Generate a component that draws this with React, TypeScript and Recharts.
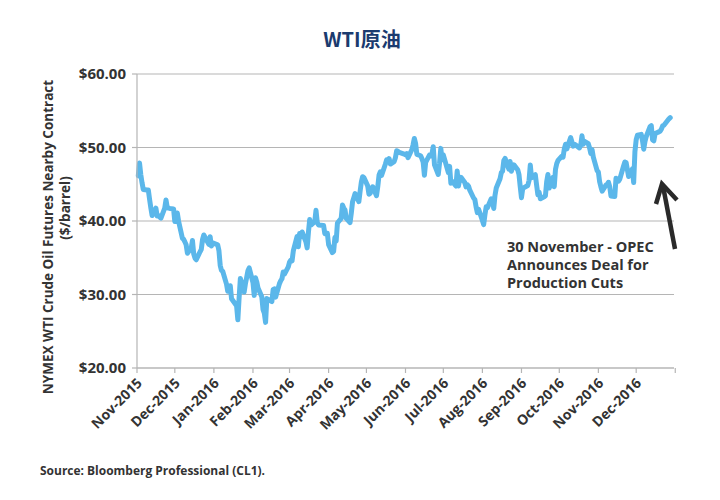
import React from 'react';
import { LineChart, Line, XAxis, YAxis, CartesianGrid } from 'recharts';

// WTI nearby contract (CL1) closes, Nov-2015 .. Dec-2016
const tradeDates = [
  '2015-11-02', '2015-11-03', '2015-11-04', '2015-11-05', '2015-11-06', '2015-11-09', '2015-11-10', '2015-11-11',
  '2015-11-12', '2015-11-13', '2015-11-16', '2015-11-17', '2015-11-18', '2015-11-19', '2015-11-20', '2015-11-23',
  '2015-11-24', '2015-11-25', '2015-11-27', '2015-11-30',
  '2015-12-01', '2015-12-02', '2015-12-03', '2015-12-04', '2015-12-07', '2015-12-08', '2015-12-09', '2015-12-10',
  '2015-12-11', '2015-12-14', '2015-12-15', '2015-12-16', '2015-12-17', '2015-12-18', '2015-12-21', '2015-12-22',
  '2015-12-23', '2015-12-24', '2015-12-28', '2015-12-29', '2015-12-30', '2015-12-31',
  '2016-01-04', '2016-01-05', '2016-01-06', '2016-01-07', '2016-01-08', '2016-01-11', '2016-01-12', '2016-01-13',
  '2016-01-14', '2016-01-15', '2016-01-19', '2016-01-20', '2016-01-21', '2016-01-22', '2016-01-25', '2016-01-26',
  '2016-01-27', '2016-01-28', '2016-01-29',
  '2016-02-01', '2016-02-02', '2016-02-03', '2016-02-04', '2016-02-05', '2016-02-08', '2016-02-09', '2016-02-10',
  '2016-02-11', '2016-02-12', '2016-02-16', '2016-02-17', '2016-02-18', '2016-02-19', '2016-02-22', '2016-02-23',
  '2016-02-24', '2016-02-25', '2016-02-26', '2016-02-29',
  '2016-03-01', '2016-03-02', '2016-03-03', '2016-03-04', '2016-03-07', '2016-03-08', '2016-03-09', '2016-03-10',
  '2016-03-11', '2016-03-14', '2016-03-15', '2016-03-16', '2016-03-17', '2016-03-18', '2016-03-21', '2016-03-22',
  '2016-03-23', '2016-03-24', '2016-03-28', '2016-03-29', '2016-03-30', '2016-03-31',
  '2016-04-01', '2016-04-04', '2016-04-05', '2016-04-06', '2016-04-07', '2016-04-08', '2016-04-11', '2016-04-12',
  '2016-04-13', '2016-04-14', '2016-04-15', '2016-04-18', '2016-04-19', '2016-04-20', '2016-04-21', '2016-04-22',
  '2016-04-25', '2016-04-26', '2016-04-27', '2016-04-28', '2016-04-29',
  '2016-05-02', '2016-05-03', '2016-05-04', '2016-05-05', '2016-05-06', '2016-05-09', '2016-05-10', '2016-05-11',
  '2016-05-12', '2016-05-13', '2016-05-16', '2016-05-17', '2016-05-18', '2016-05-19', '2016-05-20', '2016-05-23',
  '2016-05-24', '2016-05-25', '2016-05-26', '2016-05-27', '2016-05-31',
  '2016-06-01', '2016-06-02', '2016-06-03', '2016-06-06', '2016-06-07', '2016-06-08', '2016-06-09', '2016-06-10',
  '2016-06-13', '2016-06-14', '2016-06-15', '2016-06-16', '2016-06-17', '2016-06-20', '2016-06-21', '2016-06-22',
  '2016-06-23', '2016-06-24', '2016-06-27', '2016-06-28', '2016-06-29', '2016-06-30',
  '2016-07-01', '2016-07-05', '2016-07-06', '2016-07-07', '2016-07-08', '2016-07-11', '2016-07-12', '2016-07-13',
  '2016-07-14', '2016-07-15', '2016-07-18', '2016-07-19', '2016-07-20', '2016-07-21', '2016-07-22', '2016-07-25',
  '2016-07-26', '2016-07-27', '2016-07-28', '2016-07-29',
  '2016-08-01', '2016-08-02', '2016-08-03', '2016-08-04', '2016-08-05', '2016-08-08', '2016-08-09', '2016-08-10',
  '2016-08-11', '2016-08-12', '2016-08-15', '2016-08-16', '2016-08-17', '2016-08-18', '2016-08-19', '2016-08-22',
  '2016-08-23', '2016-08-24', '2016-08-25', '2016-08-26', '2016-08-29', '2016-08-30', '2016-08-31',
  '2016-09-01', '2016-09-02', '2016-09-06', '2016-09-07', '2016-09-08', '2016-09-09', '2016-09-12', '2016-09-13',
  '2016-09-14', '2016-09-15', '2016-09-16', '2016-09-19', '2016-09-20', '2016-09-21', '2016-09-22', '2016-09-23',
  '2016-09-26', '2016-09-27', '2016-09-28', '2016-09-29', '2016-09-30',
  '2016-10-03', '2016-10-04', '2016-10-05', '2016-10-06', '2016-10-07', '2016-10-10', '2016-10-11', '2016-10-12',
  '2016-10-13', '2016-10-14', '2016-10-17', '2016-10-18', '2016-10-19', '2016-10-20', '2016-10-21', '2016-10-24',
  '2016-10-25', '2016-10-26', '2016-10-27', '2016-10-28', '2016-10-31',
  '2016-11-01', '2016-11-02', '2016-11-03', '2016-11-04', '2016-11-07', '2016-11-08', '2016-11-09', '2016-11-10',
  '2016-11-11', '2016-11-14', '2016-11-15', '2016-11-16', '2016-11-17', '2016-11-18', '2016-11-21', '2016-11-22',
  '2016-11-23', '2016-11-25', '2016-11-28', '2016-11-29', '2016-11-30',
  '2016-12-01', '2016-12-02', '2016-12-05', '2016-12-06', '2016-12-07', '2016-12-08', '2016-12-09', '2016-12-12',
  '2016-12-13', '2016-12-14', '2016-12-15', '2016-12-16', '2016-12-19', '2016-12-20', '2016-12-21', '2016-12-22',
  '2016-12-23', '2016-12-27', '2016-12-28',
];

const wtiPrices = [
  46.14, 47.90, 46.32, 45.20, 44.29, 44.21, 44.21, 42.93, 41.75, 40.74, 41.74, 40.67, 40.75, 40.54, 40.39, 41.75,
  42.87, 41.80, 41.71, 41.65,
  39.94, 39.94, 41.08, 39.97, 37.65, 37.51, 37.16, 36.76, 35.62, 36.31, 37.35, 35.52, 34.95, 34.73, 35.81, 36.14,
  37.50, 38.10, 36.81, 37.87, 36.60, 37.04,
  36.76, 35.97, 33.97, 33.27, 33.16, 31.41, 30.44, 30.48, 31.20, 29.42, 28.46, 26.55, 29.53, 32.19, 30.34, 31.45,
  32.30, 33.22, 33.62,
  31.62, 29.88, 32.28, 31.72, 30.89, 29.69, 27.94, 27.45, 26.21, 29.44, 29.04, 30.66, 30.77, 29.64, 31.48, 31.87,
  32.15, 33.07, 32.78, 33.75,
  34.40, 34.66, 34.57, 35.92, 37.90, 36.50, 38.29, 37.84, 38.50, 37.18, 36.34, 38.46, 40.20, 39.44, 39.91, 41.45,
  39.79, 39.46, 39.39, 38.28, 38.32, 38.34,
  36.79, 35.70, 35.89, 37.75, 37.26, 39.72, 40.36, 42.17, 41.76, 41.50, 40.36, 39.78, 41.08, 42.63, 43.18, 43.73,
  42.64, 44.04, 45.33, 46.03, 45.92,
  44.78, 43.65, 43.78, 44.32, 44.66, 43.44, 44.66, 46.23, 46.70, 46.21, 47.72, 48.31, 48.19, 48.49, 47.75, 48.08,
  48.62, 49.56, 49.48, 49.33, 49.10,
  49.01, 49.17, 48.62, 49.69, 50.36, 51.23, 50.56, 49.07, 48.88, 48.49, 48.01, 46.21, 47.98, 48.96, 48.85, 49.13,
  50.11, 47.64, 46.33, 47.85, 49.88, 48.33,
  48.99, 46.60, 47.43, 45.14, 45.41, 44.76, 46.80, 44.75, 45.68, 45.95, 45.24, 44.65, 44.94, 44.75, 44.19, 43.13,
  42.92, 41.92, 41.14, 41.60,
  40.06, 39.51, 40.83, 41.93, 41.80, 43.02, 42.77, 41.71, 43.49, 44.49, 45.74, 46.58, 46.79, 48.22, 48.52, 47.05,
  48.10, 46.77, 47.33, 47.64, 46.98, 46.35, 44.70,
  43.16, 44.44, 44.83, 45.50, 47.62, 45.88, 46.29, 44.90, 43.58, 43.91, 43.03, 43.30, 43.44, 45.34, 46.32, 44.48,
  45.93, 44.67, 47.05, 47.83, 48.24,
  48.81, 48.69, 49.83, 50.44, 49.81, 51.35, 50.79, 50.18, 50.44, 50.35, 49.94, 50.29, 51.60, 50.43, 50.85, 50.52,
  49.96, 49.18, 49.72, 48.70, 46.86,
  46.67, 45.34, 44.66, 44.07, 44.89, 44.98, 45.27, 44.66, 43.41, 43.32, 45.81, 45.57, 45.42, 45.69, 47.49, 48.03,
  47.96, 46.06, 47.08, 45.23, 49.44,
  51.06, 51.68, 51.79, 50.93, 49.77, 50.84, 51.50, 52.83, 52.98, 51.04, 50.90, 51.90, 52.12, 52.23, 52.49, 52.95,
  53.02, 53.90, 54.06,
];

const monthStarts = [
  '2015-11-01', '2015-12-01', '2016-01-01', '2016-02-01', '2016-03-01', '2016-04-01', '2016-05-01', '2016-06-01',
  '2016-07-01', '2016-08-01', '2016-09-01', '2016-10-01', '2016-11-01', '2016-12-01', '2017-01-01',
];
const monthLabels = [
  'Nov-2015', 'Dec-2015', 'Jan-2016', 'Feb-2016', 'Mar-2016', 'Apr-2016', 'May-2016', 'Jun-2016',
  'Jul-2016', 'Aug-2016', 'Sep-2016', 'Oct-2016', 'Nov-2016', 'Dec-2016', '',
];
const priceTicks = [20, 30, 40, 50, 60];

const origin = Date.UTC(2015, 10, 1);
const toDay = (iso: string) => {
  const [y, m, d] = iso.split('-').map(Number);
  return Math.round((Date.UTC(y, m - 1, d) - origin) / 86400000);
};

const chartData = tradeDates.map((d, i) => ({ day: toDay(d), price: wtiPrices[i] }));
const dayTicks = monthStarts.map(toDay);

const FONT = '"Open Sans", "Noto Sans", sans-serif';
const GRID = '#b5b5b5';
const INK = '#333333';

const MonthTick = (props: any) => {
  const { x, y, payload } = props;
  const idx = dayTicks.indexOf(payload.value);
  const label = idx >= 0 ? monthLabels[idx] : '';
  const ax = x + 6;
  const ay = y + 9;
  return (
    <text
      x={ax}
      y={ay}
      transform={`rotate(-45, ${ax}, ${ay})`}
      textAnchor="end"
      fontFamily={FONT}
      fontWeight={700}
      fontSize={14}
      fill={INK}
    >
      {label}
    </text>
  );
};

export default function App() {
  return (
    <div style={{ position: 'absolute', left: 0, top: 0, width: 720, height: 500, background: '#fff' }}>
      <LineChart
        width={720}
        height={500}
        data={chartData}
        margin={{ top: 74, right: 46, left: 57, bottom: 62 }}
      >
        <CartesianGrid vertical={false} stroke={GRID} strokeWidth={1.2} />
        <XAxis
          dataKey="day"
          type="number"
          domain={[0, 426]}
          ticks={dayTicks}
          interval={0}
          height={70}
          tick={<MonthTick />}
          tickSize={5}
          axisLine={{ stroke: GRID, strokeWidth: 1.2 }}
          tickLine={{ stroke: GRID, strokeWidth: 1.2 }}
        />
        <YAxis
          type="number"
          domain={[20, 60]}
          ticks={priceTicks}
          width={80}
          tickSize={5}
          tickMargin={6}
          tickFormatter={(v: number) => `$${v.toFixed(2)}`}
          tick={{ fill: INK, fontFamily: FONT, fontWeight: 700, fontSize: 15 }}
          axisLine={{ stroke: GRID, strokeWidth: 1.2 }}
          tickLine={{ stroke: GRID, strokeWidth: 1.2 }}
        />
        <Line
          type="linear"
          dataKey="price"
          stroke="#5bb7ea"
          strokeWidth={5}
          strokeLinejoin="round"
          strokeLinecap="round"
          dot={false}
          isAnimationActive={false}
        />
      </LineChart>

      <svg
        width={720}
        height={500}
        style={{ position: 'absolute', left: 0, top: 0, pointerEvents: 'none' }}
      >
        <text
          x={362}
          y={47}
          textAnchor="middle"
          fontFamily='"Noto Sans CJK SC", "Noto Sans", sans-serif'
          fontWeight={700}
          fontSize={20}
          fill="#1b3b6f"
        >
          WTI原油
        </text>

        <text
          transform="translate(53, 237) rotate(-90)"
          textAnchor="middle"
          fontFamily={FONT}
          fontWeight={700}
          fontSize={13.5}
          fill={INK}
        >
          NYMEX WTI Crude Oil Futures Nearby Contract
        </text>
        <text
          transform="translate(70, 208) rotate(-90)"
          textAnchor="middle"
          fontFamily={FONT}
          fontWeight={700}
          fontSize={13.5}
          fill={INK}
        >
          ($/barrel)
        </text>

        <g fontFamily={FONT} fontWeight={700} fontSize={14.5} fill={INK}>
          <text x={507} y={252}>30 November - OPEC</text>
          <text x={507} y={270}>Announces Deal for</text>
          <text x={507} y={288}>Production Cuts</text>
        </g>

        <g stroke="#2a2a2a" strokeWidth={4.5} fill="none" strokeLinecap="butt" strokeLinejoin="miter">
          <line x1={675} y1={249} x2={663} y2={186} />
          <polyline points="656,204 662,184 677,200" />
        </g>

        <text
          x={40}
          y={475}
          fontFamily={FONT}
          fontWeight={700}
          fontSize={13}
          fill={INK}
          textLength={225}
          lengthAdjust="spacingAndGlyphs"
        >
          Source: Bloomberg Professional (CL1).
        </text>
      </svg>
    </div>
  );
}
